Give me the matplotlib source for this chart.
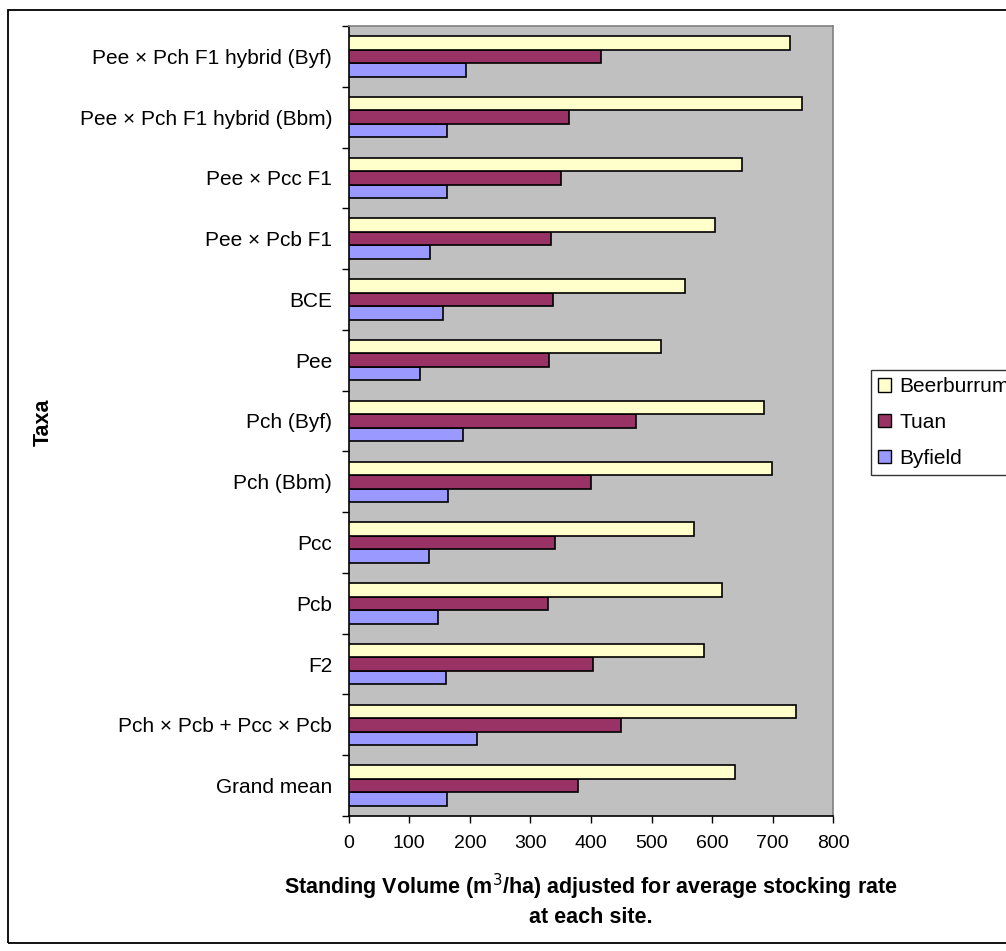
import matplotlib
matplotlib.use("Agg")
import matplotlib.pyplot as plt
from matplotlib.patches import Rectangle, Patch
import numpy as np

plt.rcParams['font.family'] = ['Liberation Sans', 'DejaVu Sans']

# Taxa, listed bottom to top as they appear on the axis
taxa = [
    "Grand mean",
    "Pch × Pcb + Pcc × Pcb",
    "F2",
    "Pcb",
    "Pcc",
    "Pch (Bbm)",
    "Pch (Byf)",
    "Pee",
    "BCE",
    "Pee × Pcb F1",
    "Pee × Pcc F1",
    "Pee × Pch F1 hybrid (Bbm)",
    "Pee × Pch F1 hybrid (Byf)",
]

# Standing volume (m3/ha) per site, same order as taxa
byfield = [162, 211, 161, 148, 132, 164, 189, 118, 156, 134, 162, 162, 194]
tuan = [378, 449, 403, 329, 340, 400, 474, 331, 337, 334, 351, 364, 417]
beerburrum = [638, 739, 587, 616, 570, 699, 685, 515, 556, 605, 650, 748, 729]

series_names = ["Byfield", "Tuan", "Beerburrum"]
series_values = [byfield, tuan, beerburrum]
series_colors = ["#9999FF", "#993366", "#FFFFCC"]

x_ticks = [0, 100, 200, 300, 400, 500, 600, 700, 800]

W, H = 1006, 951
fig = plt.figure(figsize=(W / 100, H / 100), dpi=100)
ax = fig.add_axes([348.7 / W, 1 - 816 / H, (833.3 - 348.7) / W, 790 / H])
ax.set_facecolor("#C0C0C0")

n = len(taxa)
y = np.arange(n)
bar_h = 1.0 / 4.5
for i, (name, vals, col) in enumerate(zip(series_names, series_values, series_colors)):
    offset = (i - 1) * bar_h
    ax.barh(y + offset, vals, height=bar_h, color=col, edgecolor="black",
            linewidth=1.2, label=name, zorder=3)

ax.set_xlim(0, 800)
ax.set_ylim(-0.5, n - 0.5)
ax.set_xticks(x_ticks)
ax.set_xticklabels([str(v) for v in x_ticks], fontsize=14)

# Category labels centred on groups, tick marks on group boundaries
ax.set_yticks(np.arange(-0.5, n, 1.0))
ax.set_yticklabels([])
ax.set_yticks(y, minor=True)
ax.set_yticklabels(taxa, minor=True, fontsize=15)
ax.tick_params(axis="y", which="minor", length=0, pad=12)
ax.tick_params(axis="y", which="major", length=5, width=1, direction="out")
ax.tick_params(axis="x", which="major", length=5, width=1, direction="out", pad=9)

for s in ["left", "bottom"]:
    ax.spines[s].set_color("black")
    ax.spines[s].set_linewidth(1.2)
for s in ["top", "right"]:
    ax.spines[s].set_color("#808080")
    ax.spines[s].set_linewidth(1.2)

ax.set_xlabel("Standing Volume (m$^{3}$/ha) adjusted for average stocking rate\nat each site.",
              fontsize=15.5, fontweight="bold", labelpad=14, linespacing=1.3)
fig.text(43 / W, 1 - 422 / H, "Taxa", rotation=90, fontsize=15.5, fontweight="bold",
         ha="center", va="center")

# Legend lists sites top to bottom, clipped at the right edge of the figure
handles = [Patch(facecolor=c, edgecolor="black", linewidth=1.0) for c in series_colors]
leg = fig.legend(handles[::-1], series_names[::-1], loc="upper left",
                 bbox_to_anchor=(871 / W, 1 - 370 / H), fontsize=15,
                 frameon=True, fancybox=False, edgecolor="black",
                 handlelength=0.6, handleheight=0.6, handletextpad=0.4,
                 labelspacing=0.8, borderpad=0.35, borderaxespad=0)
leg.get_frame().set_linewidth(1.0)

# Chart-area border
fig.patches.append(Rectangle((8 / W, 1 - 943 / H), 1.2, (943 - 10) / H,
                             transform=fig.transFigure, fill=False,
                             edgecolor="black", linewidth=1.3))

fig.savefig("out.png", dpi=100)
